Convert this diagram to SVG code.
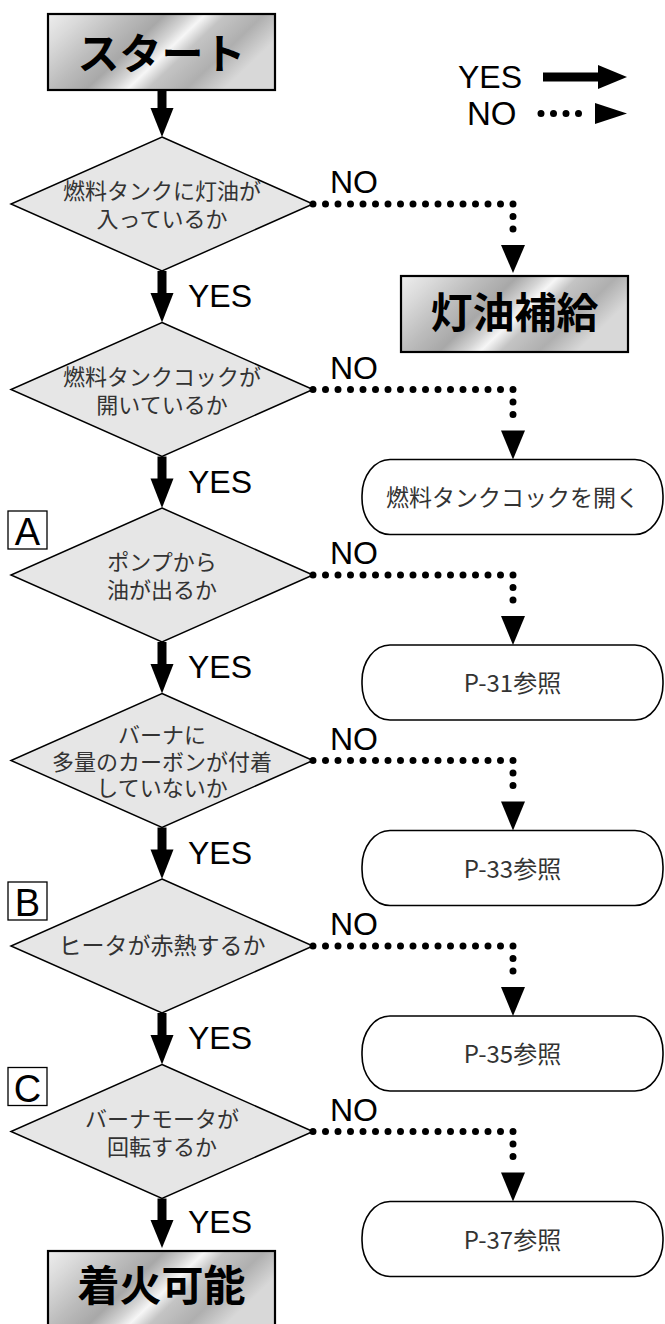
<svg xmlns="http://www.w3.org/2000/svg" width="665" height="1324" viewBox="0 0 665 1324">
<defs>
<linearGradient id="metal" x1="0" y1="0" x2="1" y2="0.35">
<stop offset="0" stop-color="#eeeeee"/>
<stop offset="0.14" stop-color="#dadada"/>
<stop offset="0.32" stop-color="#bcbcbc"/>
<stop offset="0.46" stop-color="#a8a8a8"/>
<stop offset="0.56" stop-color="#d4d4d4"/>
<stop offset="0.62" stop-color="#f6f6f6"/>
<stop offset="0.7" stop-color="#c4c4c4"/>
<stop offset="0.85" stop-color="#afafaf"/>
<stop offset="1" stop-color="#d8d8d8"/>
</linearGradient>
<style>
.metal{fill:url(#metal);stroke:#000;stroke-width:2.2}
.dia{fill:#e6e6e6;stroke:#000;stroke-width:1.5}
.pill{fill:#fff;stroke:#000;stroke-width:1.6}
.lbox{fill:#fff;stroke:#000;stroke-width:1.3}
.big{font-family:"Noto Sans CJK JP",sans-serif;font-size:42px;font-weight:bold;fill:#000;text-anchor:middle}
.jt{font-family:"Noto Sans CJK JP",sans-serif;font-size:22px;fill:#333;text-anchor:middle}
.pt{font-family:"Noto Sans CJK JP",sans-serif;font-size:24px;fill:#333;text-anchor:middle}
.en{font-family:"Liberation Sans",Arial,sans-serif;font-size:32px;fill:#000}
.let{font-family:"Liberation Sans",Arial,sans-serif;font-size:38px;fill:#000;text-anchor:middle}
.dots{fill:none;stroke:#000;stroke-width:7;stroke-linecap:round;stroke-dasharray:0 12.5}
.shaft{fill:none;stroke:#000;stroke-width:9}
.head{fill:#000}
</style>
</defs>

<g id="legend">
<text class="en" x="458" y="88">YES</text>
<line class="shaft" x1="543" y1="77" x2="600" y2="77"/>
<polygon class="head" points="598,65 627,77 598,89"/>
<text class="en" x="467" y="125" style="font-size:33px">NO</text>
<line class="dots" x1="541" y1="113.5" x2="591" y2="113.5"/>
<polygon class="head" points="595,103 627,113.5 595,124"/>
</g>

<g id="start">
<rect class="metal" x="48" y="14" width="227" height="76"/>
<text class="big" x="161.5" y="69">スタート</text>
</g>

<g id="d1">
<polygon class="dia" points="162,137 313,204 162,271 11,204"/>
<text class="jt" x="162" y="199">燃料タンクに灯油が<tspan x="162" dy="28">入っているか</tspan></text>
</g>
<g id="refuel">
<rect class="metal" x="401" y="276" width="227" height="76"/>
<text class="big" x="514.5" y="328">灯油補給</text>
</g>

<g id="d2">
<polygon class="dia" points="162,322.5 313,389.5 162,456.5 11,389.5"/>
<text class="jt" x="162" y="384.5">燃料タンクコックが<tspan x="162" dy="28">開いているか</tspan></text>
</g>
<g id="r2">
<rect class="pill" x="362" y="459.5" width="301" height="75" rx="28" ry="36"/>
<text class="jt" x="512.5" y="506" style="font-size:23px">燃料タンクコックを開く</text>
</g>

<g id="labelA">
<rect class="lbox" x="8" y="511" width="39" height="38"/>
<text class="let" x="27.5" y="545">A</text>
</g>
<g id="d3">
<polygon class="dia" points="162,508 313,575 162,642 11,575"/>
<text class="jt" x="162" y="570">ポンプから<tspan x="162" dy="28">油が出るか</tspan></text>
</g>
<g id="r3">
<rect class="pill" x="362" y="645" width="301" height="75" rx="28" ry="36"/>
<text class="pt" x="512.5" y="692">P-31参照</text>
</g>

<g id="d4">
<polygon class="dia" points="162,693.5 313,760.5 162,827.5 11,760.5"/>
<text class="jt" x="162" y="743">バーナに<tspan x="162" dy="26.5">多量のカーボンが付着</tspan><tspan x="162" dy="26.5">していないか</tspan></text>
</g>
<g id="r4">
<rect class="pill" x="362" y="830.5" width="301" height="75" rx="28" ry="36"/>
<text class="pt" x="512.5" y="877.5">P-33参照</text>
</g>

<g id="labelB">
<rect class="lbox" x="8" y="882" width="39" height="38"/>
<text class="let" x="27.5" y="916">B</text>
</g>
<g id="d5">
<polygon class="dia" points="162,879 313,946 162,1013 11,946"/>
<text class="jt" x="162" y="954" style="font-size:23px">ヒータが赤熱するか</text>
</g>
<g id="r5">
<rect class="pill" x="362" y="1016" width="301" height="75" rx="28" ry="36"/>
<text class="pt" x="512.5" y="1063">P-35参照</text>
</g>

<g id="labelC">
<rect class="lbox" x="8" y="1067.5" width="39" height="38"/>
<text class="let" x="27.5" y="1101.5">C</text>
</g>
<g id="d6">
<polygon class="dia" points="162,1064.5 313,1131.5 162,1198.5 11,1131.5"/>
<text class="jt" x="162" y="1126.5">バーナモータが<tspan x="162" dy="28">回転するか</tspan></text>
</g>
<g id="r6">
<rect class="pill" x="362" y="1201.5" width="301" height="75" rx="28" ry="36"/>
<text class="pt" x="512.5" y="1248.5">P-37参照</text>
</g>

<g id="ignite">
<rect class="metal" x="48" y="1251" width="227" height="76"/>
<text class="big" x="161.5" y="1301">着火可能</text>
</g>

<g id="connectors">
<line class="shaft" x1="162" y1="90" x2="162" y2="110"/>
<polygon class="head" points="150.5,108 173.5,108 162,137"/>

<line class="shaft" x1="162" y1="271" x2="162" y2="295"/>
<polygon class="head" points="150.5,293 173.5,293 162,322.5"/>
<text class="en" x="188" y="307">YES</text>
<line class="shaft" x1="162" y1="456.5" x2="162" y2="480"/>
<polygon class="head" points="150.5,478.5 173.5,478.5 162,508"/>
<text class="en" x="188" y="492.5">YES</text>
<line class="shaft" x1="162" y1="642" x2="162" y2="666"/>
<polygon class="head" points="150.5,664 173.5,664 162,693.5"/>
<text class="en" x="188" y="678">YES</text>
<line class="shaft" x1="162" y1="827.5" x2="162" y2="851"/>
<polygon class="head" points="150.5,849.5 173.5,849.5 162,879"/>
<text class="en" x="188" y="863.5">YES</text>
<line class="shaft" x1="162" y1="1013" x2="162" y2="1037"/>
<polygon class="head" points="150.5,1035 173.5,1035 162,1064.5"/>
<text class="en" x="188" y="1049">YES</text>
<line class="shaft" x1="162" y1="1198.5" x2="162" y2="1222"/>
<polygon class="head" points="150.5,1220 173.5,1220 162,1248"/>
<text class="en" x="188" y="1233">YES</text>

<path class="dots" d="M313,204 H513 V241.5"/>
<polygon class="head" points="501,245 525,245 513,273"/>
<text class="en" x="330" y="193">NO</text>
<path class="dots" d="M313,389.5 H513 V427"/>
<polygon class="head" points="501,430.5 525,430.5 513,459.5"/>
<text class="en" x="330" y="378.5">NO</text>
<path class="dots" d="M313,575 H513 V612.5"/>
<polygon class="head" points="501,616 525,616 513,645"/>
<text class="en" x="330" y="564">NO</text>
<path class="dots" d="M313,760.5 H513 V798"/>
<polygon class="head" points="501,801.5 525,801.5 513,830.5"/>
<text class="en" x="330" y="749.5">NO</text>
<path class="dots" d="M313,946 H513 V983.5"/>
<polygon class="head" points="501,987 525,987 513,1016"/>
<text class="en" x="330" y="935">NO</text>
<path class="dots" d="M313,1131.5 H513 V1169"/>
<polygon class="head" points="501,1172.5 525,1172.5 513,1201.5"/>
<text class="en" x="330" y="1120.5">NO</text>
</g>
</svg>
